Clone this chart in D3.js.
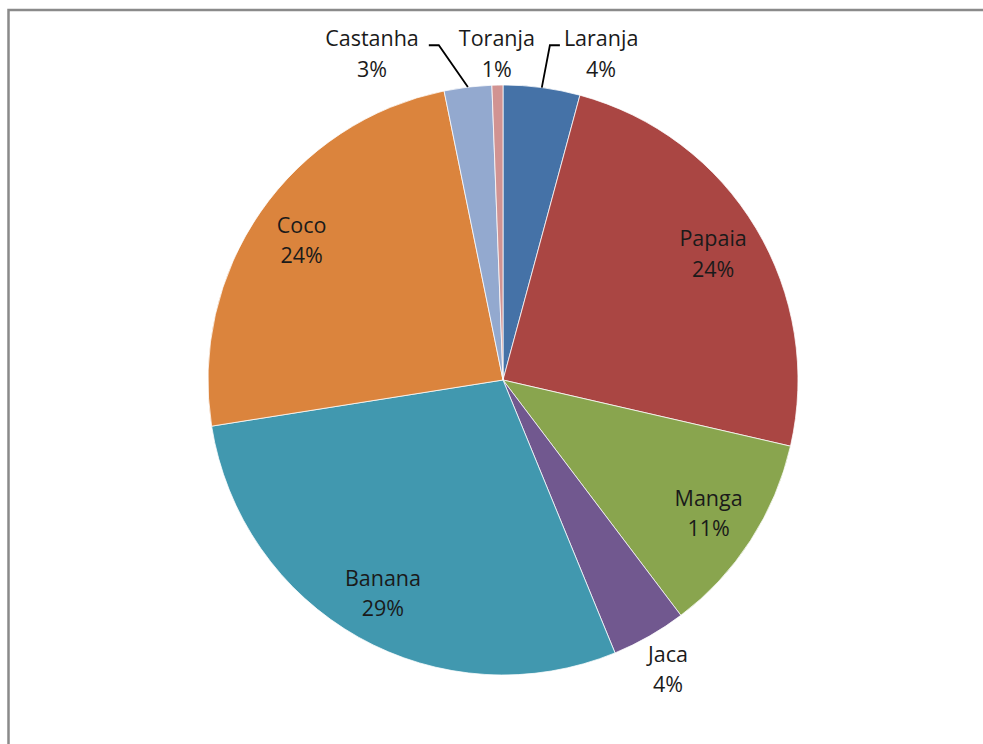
<!DOCTYPE html>
<html>
<head>
<meta charset="utf-8">
<script src="https://cdn.jsdelivr.net/npm/d3@7"></script>
<style>
  html, body { margin: 0; padding: 0; background: #fff; }
  svg { display: block; }
  text { font-family: "Open Sans", Lato, sans-serif; fill: #1a1a1a; }
</style>
</head>
<body>
<svg id="chart" width="983" height="744"></svg>
<script>
// ---- data ----
const categories = ["Laranja", "Papaia", "Manga", "Jaca", "Banana", "Coco", "Castanha", "Toranja"];
const values     = [4.2, 24.4, 11.1, 4.1, 28.7, 24.3, 2.6, 0.6];
const colors     = ["#4572A7", "#AA4643", "#89A54E", "#71588F", "#4198AF", "#DB843D", "#93A9CF", "#D19392"];

// ---- layout ----
const W = 983, H = 744;
const cx = 503, cy = 380, R = 295;
const fontSize = 21.5, lineH = 30.5, capH = fontSize * 0.714;
const blockH = lineH + capH;
const insideR = 245, outsideThreshold = 0.05, pad = 8, gapL = 40, gapR = 29;

const svg = d3.select("#chart");

// chart frame (extends beyond the window like the reference crop)
svg.append("rect")
  .attr("x", 8.5).attr("y", 10)
  .attr("width", W + 20).attr("height", H + 20)
  .attr("fill", "#fff").attr("stroke", "#8a8a8a").attr("stroke-width", 2.5);

const total = d3.sum(values);
const data = categories.map((c, i) => ({ name: c, value: values[i], color: colors[i], i }));

const pie = d3.pie().sort(null).value(d => d.value);
const arcs = pie(data);
const arc = d3.arc().innerRadius(0).outerRadius(R);
const labelArc = d3.arc().innerRadius(insideR).outerRadius(insideR);

const g = svg.append("g").attr("transform", `translate(${cx},${cy})`);

g.selectAll("path.slice")
  .data(arcs)
  .join("path")
  .attr("class", "slice")
  .attr("d", arc)
  .attr("fill", d => d.data.color)
  .attr("stroke", "rgba(255,255,255,0.75)")
  .attr("stroke-width", 1);

// ---- labels ----
const pct = d => Math.round(d.value / total * 100) + "%";

// measure widths
const meas = g.append("text").style("font-size", fontSize + "px");
function textW(s) { meas.text(s); return meas.node().getComputedTextLength(); }

const labels = arcs.map(a => {
  const mid = (a.startAngle + a.endAngle) / 2;
  const w = Math.max(textW(a.data.name), textW(pct(a.data)));
  const share = a.data.value / total;
  const L = { a, mid, w, h: blockH, outside: share < outsideThreshold };
  if (!L.outside) {
    const c = labelArc.centroid(a);
    L.x = c[0]; L.y = c[1];
  } else {
    const sx = Math.sin(mid), sy = -Math.cos(mid);
    let d = R;
    for (; d < R + 200; d += 0.5) {
      const x = d * sx, y = d * sy;
      const nx = Math.max(Math.abs(x) - w / 2, 0) * Math.sign(x);
      const ny = Math.max(Math.abs(y) - blockH / 2, 0) * Math.sign(y);
      if (Math.hypot(nx, ny) >= R + pad) break;
    }
    L.x = d * sx; L.y = d * sy;
    L.nx = L.x;
  }
  return L;
});
meas.remove();

// resolve horizontal overlaps among outside labels sharing a vertical band
const outs = labels.filter(l => l.outside);
const bands = [];
outs.forEach(l => {
  const b = bands.find(bb => bb.some(o => Math.abs(o.y - l.y) < blockH));
  if (b) b.push(l); else bands.push([l]);
});
bands.forEach(b => {
  if (b.length < 2) return;
  b.sort((p, q) => p.x - q.x);
  let k = 0;
  b.forEach((l, i) => { if (Math.abs(l.x) < Math.abs(b[k].x)) k = i; });
  for (let i = k + 1; i < b.length; i++) {
    const p = b[i - 1], l = b[i];
    const minX = p.x + p.w / 2 + gapR + l.w / 2;
    if (l.x < minX) l.x = minX;
  }
  for (let i = k - 1; i >= 0; i--) {
    const p = b[i + 1], l = b[i];
    const maxX = p.x - p.w / 2 - gapL - l.w / 2;
    if (l.x > maxX) l.x = maxX;
  }
  const yy = d3.min(b, l => l.y);
  b.forEach(l => l.y = yy);
});

// leader lines for displaced labels
labels.filter(l => l.outside && Math.abs(l.x - l.nx) > 10).forEach(l => {
  const p = [R * Math.sin(l.mid), -R * Math.cos(l.mid)];
  const right = l.x > l.nx; // label moved right -> line attaches at its left edge
  const edge = right ? l.x - l.w / 2 : l.x + l.w / 2;
  const dir = right ? -1 : 1;
  const off = right ? 14 : 20;
  const ly = l.y - blockH / 2 + capH - 1;
  const pts = [p, [edge + dir * off, ly], [edge + dir * (off - 10), ly]];
  g.append("path")
    .attr("d", d3.line()(pts))
    .attr("fill", "none")
    .attr("stroke", "#000")
    .attr("stroke-width", 1.8);
});

const tg = g.selectAll("text.lbl")
  .data(labels)
  .join("text")
  .attr("class", "lbl")
  .attr("text-anchor", "middle")
  .style("font-size", fontSize + "px");

tg.append("tspan")
  .attr("x", d => d.x)
  .attr("y", d => d.y - blockH / 2 + capH)
  .text(d => d.a.data.name);
tg.append("tspan")
  .attr("x", d => d.x)
  .attr("y", d => d.y - blockH / 2 + capH + lineH)
  .text(d => pct(d.a.data));
</script>
</body>
</html>
